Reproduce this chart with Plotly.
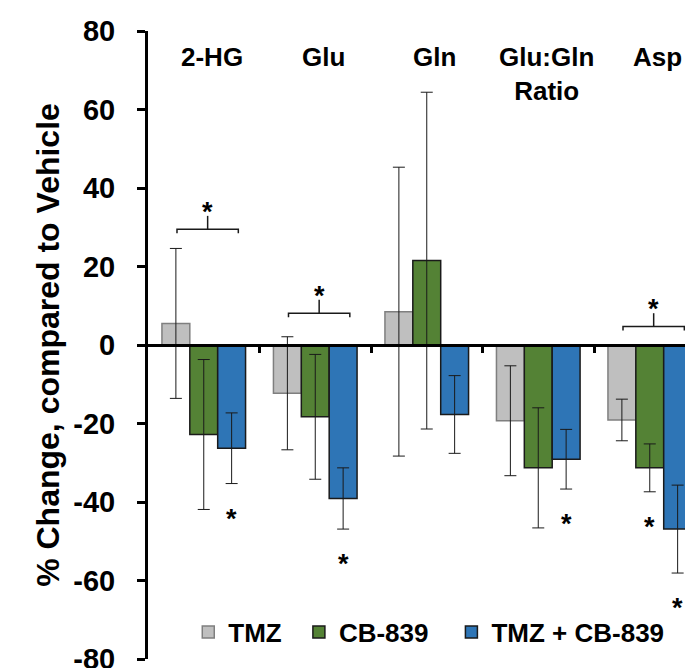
import plotly.graph_objects as go

categories = ["2-HG", "Glu", "Gln", "Glu:Gln<br>Ratio", "Asp"]
series_names = ["TMZ", "CB-839", "TMZ + CB-839"]
tmz = [5.5, -12.3, 8.5, -19.3, -19.1]
tmz_err = [19.1, 14.4, 36.8, 14.0, 5.3]
cb839 = [-22.8, -18.3, 21.5, -31.3, -31.3]
cb839_err = [19.1, 15.9, 42.9, 15.3, 6.1]
combo = [-26.3, -39.1, -17.7, -29.1, -46.9]
combo_err = [9.0, 7.8, 9.9, 7.6, 11.2]
y_ticks = [-80, -60, -40, -20, 0, 20, 40, 60, 80]
y_tick_labels = ["-80", "-60", "-40", "-20", "0", "20", "40", "60", "80"]
# significance: bracket level over a category group, and single-bar stars
bracket_levels = [29.5, 8.1, None, None, 4.7]
star_bars = [(0, 2), (1, 2), (3, 2), (4, 1), (4, 2)]

fills = ["#BFBFBF", "#548235", "#2E75B6"]
outlines = ["#7F7F7F", "#1A1A1A", "#1A1A1A"]
legend_x = [0.075, 0.281, 0.565]
FONT = "Liberation Sans, Arial, sans-serif"

values = [tmz, cb839, combo]
errors = [tmz_err, cb839_err, combo_err]
xs = list(range(len(categories)))
offsets = [-0.25, 0.0, 0.25]
legend_ids = ["legend", "legend2", "legend3"]

fig = go.Figure()
for k in range(3):
    fig.add_trace(go.Bar(
        x=xs, y=values[k], name=series_names[k], legend=legend_ids[k],
        marker=dict(color=fills[k], line=dict(color=outlines[k], width=1.5)),
        error_y=dict(type="data", array=errors[k], visible=True,
                     color="#1A1A1A", thickness=1, width=6),
    ))

# brackets
for i, lvl in enumerate(bracket_levels):
    if lvl is None:
        continue
    x0, x1 = i - 0.24, i + 0.31
    xm = (x0 + x1) / 2
    fig.add_trace(go.Scatter(
        x=[x0, x0, x1, x1, None, xm, xm],
        y=[lvl - 1.0, lvl, lvl, lvl - 1.0, None, lvl, lvl + 3.4],
        mode="lines", line=dict(color="#1A1A1A", width=1.5),
        showlegend=False, hoverinfo="skip"))
    fig.add_annotation(x=xm, y=lvl + 3.4, text="*", showarrow=False,
                       yanchor="bottom", yshift=-13,
                       font=dict(family=FONT, size=27, color="black", weight="bold"))

for (i, k) in star_bars:
    fig.add_annotation(x=i + offsets[k], y=values[k][i] - errors[k][i], text="*",
                       showarrow=False, yanchor="top", yshift=-18,
                       font=dict(family=FONT, size=27, color="black", weight="bold"))

for i, c in enumerate(categories):
    fig.add_annotation(x=i, y=0.985, yref="paper", text=c, showarrow=False,
                       yanchor="top", xshift=8,
                       font=dict(family=FONT, size=26, color="black", weight="bold"))

legend_font = dict(family=FONT, size=26, color="black", weight="bold")
legend_common = dict(orientation="h", y=0.043, xanchor="left", yanchor="middle",
                     font=legend_font, bgcolor="rgba(0,0,0,0)")

fig.update_layout(
    width=685, height=668, autosize=False,
    margin=dict(l=148, r=0, t=31, b=9),
    paper_bgcolor="white", plot_bgcolor="white",
    barmode="group", bargap=0.25, bargroupgap=0,
    font=dict(family=FONT, color="black"),
    showlegend=True,
    legend=dict(x=legend_x[0], **legend_common),
    legend2=dict(x=legend_x[1], **legend_common),
    legend3=dict(x=legend_x[2], **legend_common),
    xaxis=dict(range=[-0.5, 4.316], anchor="free", position=0.5,
               showline=True, linewidth=3, linecolor="black",
               tickmode="array", tickvals=[0.5, 1.5, 2.5, 3.5],
               ticks="outside", ticklen=6, tickwidth=3, tickcolor="black",
               showticklabels=False, showgrid=False, zeroline=False,
               automargin=False),
    yaxis=dict(range=[-80, 80], tickmode="array", tickvals=y_ticks,
               ticktext=y_tick_labels, ticklabeloverflow="allow",
               automargin=False,
               showline=True, linewidth=3, linecolor="black",
               ticks="outside", ticklen=8, tickwidth=3, tickcolor="black",
               ticklabelstandoff=16,
               tickfont=dict(family=FONT, size=29, color="black", weight="bold"),
               showgrid=False, zeroline=False,
               title=dict(text="% Change, compared to Vehicle", standoff=5,
                          font=dict(family=FONT, size=32, color="black", weight="bold"))),
)

fig.write_html(
    "out.html",
    config={"displayModeBar": False},
    post_script="document.body.style.margin='0';document.documentElement.style.overflow='hidden';",
)
